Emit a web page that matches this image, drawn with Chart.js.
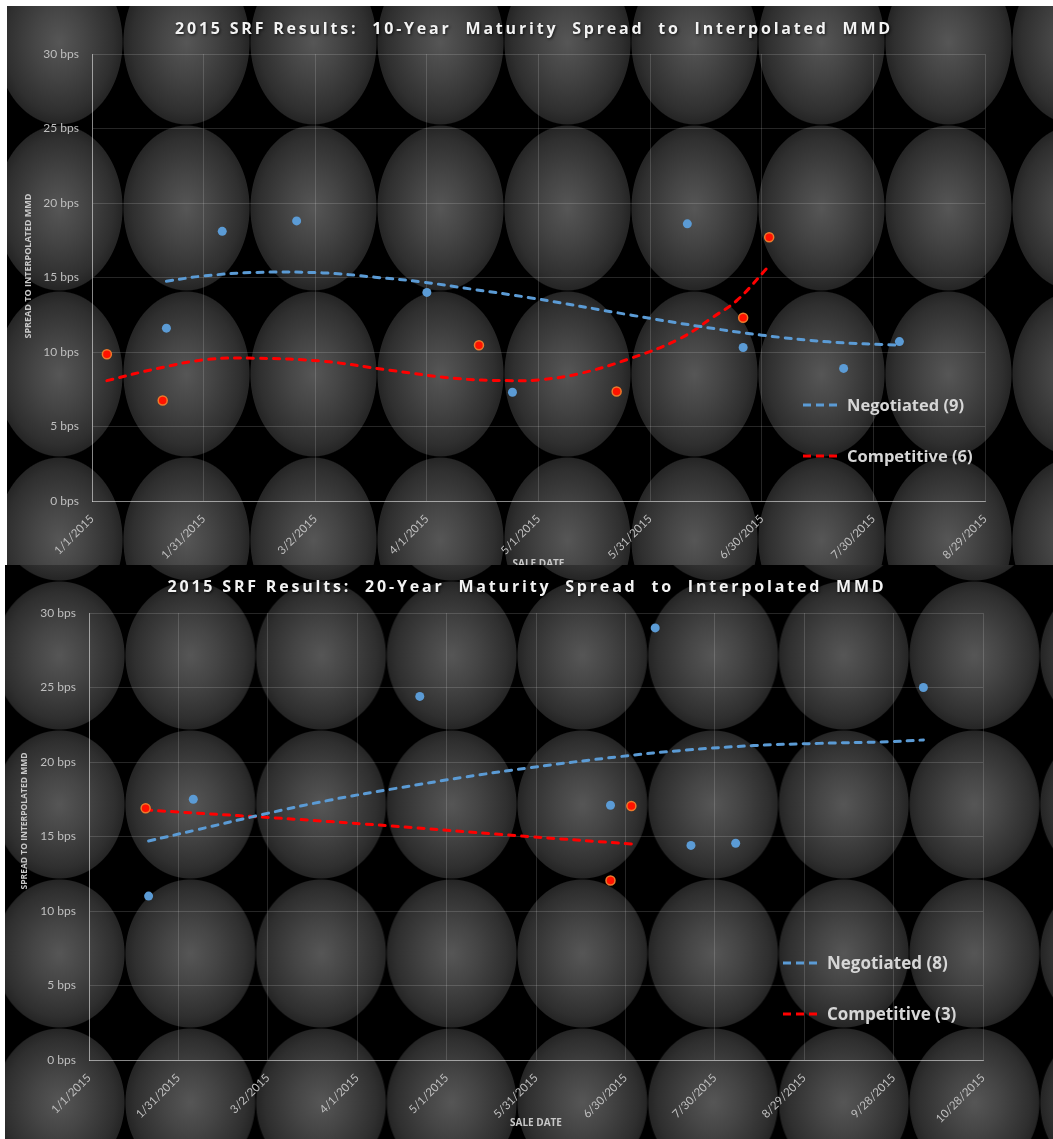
<!DOCTYPE html>
<html>
<head>
<meta charset="utf-8">
<title>2015 SRF Results</title>
<script src="https://cdn.jsdelivr.net/npm/chart.js@4.4.1/dist/chart.umd.min.js"></script>
<style>
  html, body { margin: 0; padding: 0; background: #fff; }
  body { width: 1053px; height: 1139px; position: relative; overflow: hidden; }
  .panel {
    position: absolute;
    background-color: #000;
    background-image: radial-gradient(closest-side, #565656 0%, #454545 40%, #2f2f2f 85%, #252525 98.6%, rgba(0,0,0,0) 100%);
    background-repeat: repeat;
  }
  #panel10 { left: 7px; top: 6px; width: 1046px; height: 559px;
    background-size: 127px 166px; background-position: -11px -47px; }
  #panel20 { left: 5px; top: 565px; width: 1048px; height: 574px;
    background-size: 130.7px 149px; background-position: -10.7px -133px; }
  canvas { display: block; }
</style>
</head>
<body>
<div class="panel" id="panel10"><canvas id="chart10"></canvas></div>
<div class="panel" id="panel20"><canvas id="chart20"></canvas></div>
<script>
// ---- 10-year maturity: spread to interpolated MMD (bps) by sale date ----
const neg10Dates   = ['2015-01-21', '2015-02-05', '2015-02-25', '2015-04-01', '2015-04-24', '2015-06-10', '2015-06-25', '2015-07-22', '2015-08-06'];
const neg10Spreads = [11.6, 18.1, 18.8, 14.0, 7.3, 18.6, 10.3, 8.9, 10.7];
const comp10Dates   = ['2015-01-05', '2015-01-20', '2015-04-15', '2015-05-22', '2015-06-25', '2015-07-02'];
const comp10Spreads = [9.85, 6.75, 10.45, 7.35, 12.3, 17.7];

// trend curves (day of year -> bps)
const neg10TrendDays    = [20, 30, 44, 62, 76, 89, 102, 118, 145, 163, 180, 198, 217];
const neg10TrendSpreads = [14.75, 15.1, 15.34, 15.31, 15.02, 14.69, 14.22, 13.63, 12.47, 11.73, 11.13, 10.68, 10.45];
const comp10TrendDays    = [4, 17.5, 31, 44, 62, 80, 98, 111.5, 120, 131, 144.6, 158, 167, 173.4, 181.5];
const comp10TrendSpreads = [8.08, 8.89, 9.5, 9.58, 9.38, 8.78, 8.22, 8.08, 8.13, 8.55, 9.56, 10.9, 12.36, 13.48, 15.65];

const xTicks10 = ['1/1/2015', '1/31/2015', '3/2/2015', '4/1/2015', '5/1/2015', '5/31/2015', '6/30/2015', '7/30/2015', '8/29/2015'];

// ---- 20-year maturity ----
const neg20Dates   = ['2015-01-21', '2015-02-05', '2015-04-22', '2015-06-25', '2015-07-10', '2015-07-22', '2015-08-06', '2015-10-08'];
const neg20Spreads = [11.0, 17.5, 24.4, 17.1, 29.0, 14.4, 14.55, 25.0];
const comp20Dates   = ['2015-01-20', '2015-06-25', '2015-07-02'];
const comp20Spreads = [16.9, 12.05, 17.05];

const neg20TrendDays    = [20, 36, 58.5, 81, 103, 125.6, 148, 178, 200.6, 223, 245, 268, 280];
const neg20TrendSpreads = [14.7, 15.44, 16.49, 17.45, 18.23, 18.97, 19.62, 20.36, 20.8, 21.1, 21.25, 21.36, 21.48];
const comp20TrendDays    = [19, 81, 148, 182];
const comp20TrendSpreads = [16.78, 16.0, 14.99, 14.5];

const xTicks20 = ['1/1/2015', '1/31/2015', '3/2/2015', '4/1/2015', '5/1/2015', '5/31/2015', '6/30/2015', '7/30/2015', '8/29/2015', '9/28/2015', '10/28/2015'];

const yTicks = [0, 5, 10, 15, 20, 25, 30];

// ---- helpers ----
const YEAR_START = Date.UTC(2015, 0, 1);
function dayFromIso(s) {
  const [y, m, d] = s.split('-').map(Number);
  return (Date.UTC(y, m - 1, d) - YEAR_START) / 86400000;
}
function dayFromLabel(s) {
  const [m, d, y] = s.split('/').map(Number);
  return (Date.UTC(y, m - 1, d) - YEAR_START) / 86400000;
}
const pairs = (xs, ys) => xs.map((x, i) => ({ x, y: ys[i] }));

const BLUE = '#5b9bd5';
const RED = '#ff0000';
const GRID = 'rgba(255,255,255,0.15)';
const AXIS = 'rgba(255,255,255,0.45)';
const TICK = '#bfbfbf';
const HEAVY = '"Open Sans", "DejaVu Sans", sans-serif';

// title, axis titles and the in-plot legend
const decor = {
  id: 'decor',
  afterDraw(chart, args, o) {
    const ctx = chart.ctx;
    const area = chart.chartArea;
    ctx.save();

    // chart title, spread to its full width
    ctx.font = `bold ${o.titleSize}px ${HEAVY}`;
    ctx.letterSpacing = '0px';
    const w0 = ctx.measureText(o.title).width;
    ctx.letterSpacing = ((o.titleWidth - w0) / o.title.length) + 'px';
    ctx.fillStyle = '#f2f2f2';
    ctx.textAlign = 'left';
    ctx.textBaseline = 'middle';
    ctx.shadowColor = 'rgba(0,0,0,0.75)';
    ctx.shadowBlur = 3;
    ctx.shadowOffsetX = 1;
    ctx.shadowOffsetY = 1;
    ctx.fillText(o.title, o.titleX - o.titleWidth / 2, o.titleY);
    ctx.shadowColor = 'transparent';
    ctx.letterSpacing = '0px';

    // axis titles
    ctx.fillStyle = '#c8c8c8';
    ctx.textAlign = 'center';
    ctx.font = `bold ${o.axisTitleSize}px ${HEAVY}`;
    ctx.fillText(o.xTitle, (area.left + area.right) / 2, o.xTitleY);
    ctx.save();
    ctx.translate(o.yTitleX, o.yTitleY);
    ctx.rotate(-Math.PI / 2);
    ctx.font = `bold ${o.yTitleSize}px ${HEAVY}`;
    ctx.fillText(o.yTitle, 0, 0);
    ctx.restore();

    // legend entries for the trend curves
    const items = chart.data.datasets.filter(d => d.legendRow !== undefined);
    items.forEach(d => {
      const y = o.legendY + d.legendRow * o.legendGap;
      ctx.beginPath();
      ctx.setLineDash([8, 5]);
      ctx.lineCap = 'butt';
      ctx.lineWidth = 3;
      ctx.strokeStyle = d.borderColor;
      ctx.moveTo(o.legendX, y);
      ctx.lineTo(o.legendX + o.legendLine, y);
      ctx.stroke();
      ctx.setLineDash([]);
      ctx.font = `bold ${o.legendSize}px ${HEAVY}`;
      ctx.fillStyle = '#d6d6d6';
      ctx.textAlign = 'left';
      ctx.textBaseline = 'middle';
      ctx.fillText(d.label, o.legendTextX, y + 1);
    });
    ctx.restore();
  }
};

function buildChart(canvasId, cfg) {
  const tickDays = cfg.xLabels.map(dayFromLabel);
  const labelByDay = {};
  tickDays.forEach((d, i) => { labelByDay[d] = cfg.xLabels[i]; });

  const pointStyle = {
    pointRadius: 4.5,
    pointHoverRadius: 4.5,
    showLine: false,
    order: 0
  };
  const trendStyle = {
    showLine: true,
    pointRadius: 0,
    pointHoverRadius: 0,
    borderWidth: 3,
    borderDash: [6, 7],
    borderCapStyle: 'round',
    tension: 0.4,
    fill: false,
    order: 1
  };

  return new Chart(document.getElementById(canvasId), {
    type: 'scatter',
    data: {
      datasets: [
        Object.assign({
          label: 'Negotiated points',
          data: pairs(cfg.negDates.map(dayFromIso), cfg.negSpreads),
          backgroundColor: BLUE,
          borderColor: BLUE,
          borderWidth: 0
        }, pointStyle),
        Object.assign({
          label: 'Competitive points',
          data: pairs(cfg.compDates.map(dayFromIso), cfg.compSpreads),
          backgroundColor: '#ff1200',
          borderColor: '#ec7a2c',
          borderWidth: 1.5
        }, pointStyle),
        Object.assign({
          label: `Negotiated (${cfg.negSpreads.length})`,
          data: pairs(cfg.negTrendDays, cfg.negTrendSpreads),
          borderColor: BLUE,
          legendRow: 0
        }, trendStyle),
        Object.assign({
          label: `Competitive (${cfg.compSpreads.length})`,
          data: pairs(cfg.compTrendDays, cfg.compTrendSpreads),
          borderColor: RED,
          legendRow: 1
        }, trendStyle)
      ]
    },
    options: {
      responsive: true,
      maintainAspectRatio: false,
      devicePixelRatio: 1,
      animation: false,
      events: [],
      layout: { padding: { top: 48, left: 0, right: cfg.rightPad, bottom: 0 } },
      plugins: {
        legend: { display: false },
        tooltip: { enabled: false },
        title: { display: false },
        decor: cfg.decor
      },
      scales: {
        x: {
          type: 'linear',
          min: tickDays[0],
          max: tickDays[tickDays.length - 1],
          afterBuildTicks: s => { s.ticks = tickDays.map(v => ({ value: v })); },
          afterFit: s => { s.height = cfg.xAxisHeight; },
          ticks: {
            autoSkip: false,
            minRotation: 45,
            maxRotation: 45,
            padding: 11,
            color: TICK,
            font: { family: 'Lato', size: 11.5 },
            callback: v => labelByDay[v]
          },
          grid: { color: GRID, lineWidth: 1, drawTicks: false },
          border: { color: AXIS, width: 1 }
        },
        y: {
          min: yTicks[0],
          max: yTicks[yTicks.length - 1],
          afterBuildTicks: s => { s.ticks = yTicks.map(v => ({ value: v })); },
          afterFit: s => { s.width = cfg.yAxisWidth; },
          ticks: {
            padding: 13,
            color: TICK,
            font: { family: 'Lato', size: 12 },
            callback: v => v + ' bps'
          },
          grid: { color: GRID, lineWidth: 1, drawTicks: false },
          border: { color: AXIS, width: 1 }
        }
      }
    },
    plugins: [decor]
  });
}

function drawAll() {
  buildChart('chart10', {
    negDates: neg10Dates, negSpreads: neg10Spreads,
    compDates: comp10Dates, compSpreads: comp10Spreads,
    negTrendDays: neg10TrendDays, negTrendSpreads: neg10TrendSpreads,
    compTrendDays: comp10TrendDays, compTrendSpreads: comp10TrendSpreads,
    xLabels: xTicks10,
    rightPad: 68, yAxisWidth: 85, xAxisHeight: 64,
    decor: {
      title: '2015 SRF Results:  10-Year  Maturity  Spread  to  Interpolated  MMD',
      titleSize: 16, titleWidth: 718, titleX: 527, titleY: 23,
      xTitle: 'SALE DATE', xTitleY: 558, axisTitleSize: 10,
      yTitle: 'SPREAD TO INTERPOLATED MMD', yTitleX: 21, yTitleY: 260, yTitleSize: 9,
      legendX: 796, legendLine: 35, legendTextX: 840, legendY: 399, legendGap: 51, legendSize: 16.5
    }
  });
  buildChart('chart20', {
    negDates: neg20Dates, negSpreads: neg20Spreads,
    compDates: comp20Dates, compSpreads: comp20Spreads,
    negTrendDays: neg20TrendDays, negTrendSpreads: neg20TrendSpreads,
    compTrendDays: comp20TrendDays, compTrendSpreads: comp20TrendSpreads,
    xLabels: xTicks20,
    rightPad: 70, yAxisWidth: 84, xAxisHeight: 79,
    decor: {
      title: '2015 SRF Results:  20-Year  Maturity  Spread  to  Interpolated  MMD',
      titleSize: 16, titleWidth: 719, titleX: 522, titleY: 22,
      xTitle: 'SALE DATE', xTitleY: 558, axisTitleSize: 10,
      yTitle: 'SPREAD TO INTERPOLATED MMD', yTitleX: 20, yTitleY: 256, yTitleSize: 8.5,
      legendX: 778, legendLine: 37, legendTextX: 822, legendY: 398, legendGap: 51, legendSize: 17
    }
  });
}

Promise.all([
  document.fonts.load('bold 16px "Open Sans"'),
  document.fonts.load('12px Lato')
]).then(drawAll, drawAll);
</script>
</body>
</html>
